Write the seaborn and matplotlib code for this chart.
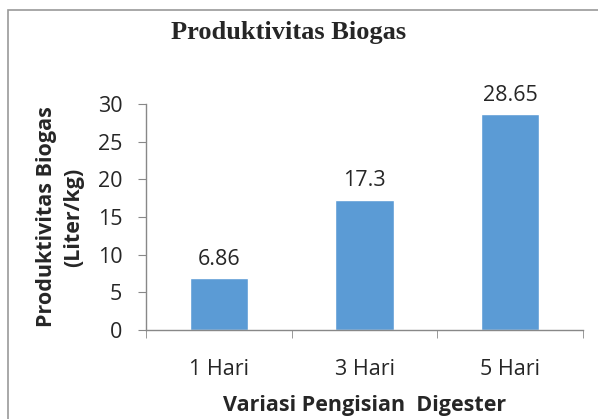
import matplotlib
matplotlib.use('Agg')
import matplotlib.pyplot as plt
from matplotlib.patches import Rectangle
import seaborn as sns
import pandas as pd

# Data
kategori = ['1 Hari', '3 Hari', '5 Hari']
produktivitas = [6.86, 17.3, 28.65]
label_nilai = ['6.86', '17.3', '28.65']

df = pd.DataFrame({'Variasi': kategori, 'Produktivitas': produktivitas})

sns.set_style('white')
plt.rcParams['font.family'] = ['Open Sans', 'DejaVu Sans']

fig = plt.figure(figsize=(5.98, 4.19), dpi=100)
ax = fig.add_axes([0.2441, 0.2124, 0.975 - 0.2441, 0.7518 - 0.2124])

sns.barplot(data=df, x='Variasi', y='Produktivitas', color='#5B9BD5',
            width=0.4, saturation=1, ax=ax)

ax.set_ylim(0, 30)
ax.set_xlim(-0.5, 2.5)
ax.set_yticks(range(0, 31, 5))
ax.tick_params(axis='y', labelsize=15.5, length=6, color='#888888', direction='out', left=True, pad=11)
ax.tick_params(axis='x', labelsize=15.5, length=0, pad=21)
# garis tick di antara kategori
ax.set_xticks([-0.5, 0.5, 1.5, 2.5], minor=True)
ax.tick_params(axis='x', which='minor', length=6, color='#888888', direction='out', bottom=True)

for s in ['top', 'right']:
    ax.spines[s].set_visible(False)
for s in ['left', 'bottom']:
    ax.spines[s].set_color('#888888')
    ax.spines[s].set_linewidth(1)

for i, v in enumerate(produktivitas):
    ax.text(i, v + 1.1, label_nilai[i], ha='center', va='bottom', fontsize=15.5)

ax.set_xlabel('Variasi Pengisian  Digester', fontsize=15.5, fontweight='bold', labelpad=11)
ax.set_ylabel('Produktivitas Biogas\n(Liter/kg)', fontsize=15.5, fontweight='bold',
              labelpad=10, linespacing=1.35)

fig.text(0.483, 1 - 33 / 419, 'Produktivitas Biogas', ha='center', va='center',
         fontsize=19, fontweight='bold', family='Liberation Serif')

# bingkai grafik
fig.patches.append(Rectangle((8 / 598, -0.01), 1.0, 1 - 10 / 419 + 0.01,
                             transform=fig.transFigure, fill=False,
                             edgecolor='#9a9a9a', linewidth=1.2))

fig.savefig('out.png', dpi=100)
